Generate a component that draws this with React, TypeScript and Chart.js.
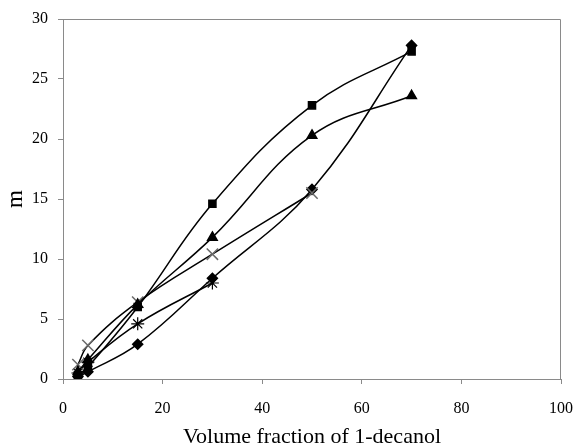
import React, { useEffect, useRef } from "react";
import { Chart, registerables } from "chart.js";

Chart.register(...registerables);

const xDiamond = [3, 5, 15, 30, 50, 70];
const yDiamond = [0.2, 0.6, 2.9, 8.4, 15.8, 27.8];
const xSquare = [3, 5, 15, 30, 50, 70];
const ySquare = [0.3, 1.0, 6.0, 14.6, 22.8, 27.3];
const xTriangle = [3, 5, 15, 30, 50, 70];
const yTriangle = [0.6, 1.6, 6.2, 11.8, 20.3, 23.6];
const xCross = [3, 5, 15, 30, 50];
const yCross = [1.2, 2.8, 6.4, 10.4, 15.5];
const xStar = [3, 5, 15, 30];
const yStar = [0.5, 1.4, 4.6, 8.0];

const xTicks = [0, 20, 40, 60, 80, 100];
const yTicks = [0, 5, 10, 15, 20, 25, 30];

const toPts = (xs: number[], ys: number[]) => xs.map((x, i) => ({ x, y: ys[i] }));

const framePlugin = {
  id: "frame",
  afterDraw(chart: any) {
    const { ctx, chartArea } = chart;
    ctx.save();
    ctx.strokeStyle = "#8a8a8a";
    ctx.lineWidth = 1;
    ctx.beginPath();
    ctx.moveTo(chartArea.left, chartArea.top + 0.5);
    ctx.lineTo(chartArea.right - 0.5, chartArea.top + 0.5);
    ctx.lineTo(chartArea.right - 0.5, chartArea.bottom);
    ctx.stroke();
    ctx.restore();
  },
};

export default function App() {
  const ref = useRef<HTMLCanvasElement>(null);
  useEffect(() => {
    document.body.style.margin = "0";
    const font = "'Liberation Serif', 'Times New Roman', serif";
    const base = {
      showLine: true,
      borderColor: "#000",
      borderWidth: 1.5,
      tension: 0.4,
      fill: false,
    };
    const chart = new Chart(ref.current!, {
      type: "scatter",
      data: {
        datasets: [
          { ...base, data: toPts(xSquare, ySquare), pointStyle: "rect", pointRadius: 5, backgroundColor: "#000", pointBorderColor: "#000" },
          { ...base, data: toPts(xTriangle, yTriangle), pointStyle: "triangle", pointRadius: 5.5, backgroundColor: "#000", pointBorderColor: "#000" },
          { ...base, data: toPts(xCross, yCross), pointStyle: "crossRot", pointRadius: 8, pointBorderWidth: 1.5, pointBorderColor: "#6a6a6a", backgroundColor: "#6a6a6a" },
          { ...base, data: toPts(xStar, yStar), pointStyle: "star", pointRadius: 6.5, pointBorderWidth: 1.2, pointBorderColor: "#000", backgroundColor: "#000" },
          { ...base, data: toPts(xDiamond, yDiamond), pointStyle: "rectRot", pointRadius: 5, backgroundColor: "#000", pointBorderColor: "#000" },
        ],
      },
      options: {
        animation: false,
        responsive: false,
        layout: { padding: { left: 0, right: 14, top: 19, bottom: 0 } },
        plugins: { legend: { display: false }, tooltip: { enabled: false } },
        scales: {
          x: {
            type: "linear",
            min: 0,
            max: 100,
            afterBuildTicks: (s: any) => { s.ticks = xTicks.map((v) => ({ value: v })); },
            afterFit: (s: any) => { s.height = 67; s.paddingRight = 0; s.paddingLeft = 0; },
            grid: { drawOnChartArea: false, drawTicks: true, tickLength: 5, color: "#8a8a8a" },
            border: { color: "#8a8a8a", width: 1 },
            ticks: { color: "#000", font: { family: font, size: 16 }, padding: 15, maxRotation: 0 },
            title: { display: true, text: "Volume fraction of 1-decanol", color: "#000", font: { family: font, size: 22 }, padding: { top: 0, bottom: -4 } },
          },
          y: {
            type: "linear",
            min: 0,
            max: 30,
            afterBuildTicks: (s: any) => { s.ticks = yTicks.map((v) => ({ value: v })); },
            afterFit: (s: any) => { s.width = 63; s.paddingTop = 0; s.paddingBottom = 0; },
            grid: { drawOnChartArea: false, drawTicks: true, tickLength: 5, color: "#8a8a8a" },
            border: { color: "#8a8a8a", width: 1 },
            ticks: { color: "#000", font: { family: font, size: 16 }, padding: 10 },
            title: { display: true, text: "m", color: "#000", font: { family: font, size: 23 }, padding: { top: 2, bottom: 0 } },
          },
        },
      },
      plugins: [framePlugin],
    });
    return () => chart.destroy();
  }, []);
  return <canvas ref={ref} width={575} height={446} style={{ display: "block" }} />;
}
